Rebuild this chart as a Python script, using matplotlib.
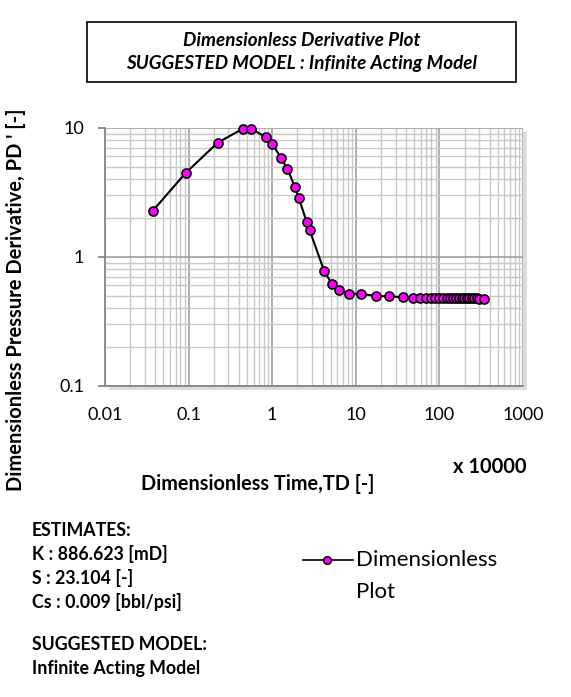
import matplotlib
matplotlib.use("Agg")
import matplotlib.pyplot as plt
from matplotlib.patches import Rectangle
from matplotlib.lines import Line2D
from matplotlib.ticker import LogLocator, NullFormatter, FixedLocator, FixedFormatter

plt.rcParams['font.family'] = ['Lato', 'DejaVu Sans']

# dimensionless time (x 10000) and pressure derivative
td = [0.0373, 0.092, 0.223, 0.444, 0.557, 0.843, 1.0, 1.27, 1.52, 1.87, 2.09,
      2.59, 2.81, 4.17, 5.15, 6.3, 8.3, 11.5, 17.6, 24.8, 36.4, 47.9, 58.6,
      68.6, 78.7, 89.3, 99.7, 111, 122, 134, 147, 159, 171, 185, 198, 214,
      228, 245, 261, 279, 298, 344]
pd_der = [2.27, 4.45, 7.66, 9.8, 9.85, 8.43, 7.52, 5.86, 4.80, 3.47, 2.83,
          1.85, 1.60, 0.78, 0.618, 0.551, 0.517, 0.515, 0.496, 0.493, 0.485,
          0.481, 0.480, 0.479, 0.478, 0.478, 0.477, 0.477, 0.477, 0.476, 0.476,
          0.476, 0.476, 0.475, 0.475, 0.475, 0.475, 0.475, 0.475, 0.475,
          0.474, 0.474]

xticks = [0.01, 0.1, 1, 10, 100, 1000]
xtick_labels = ["0.01", "0.1", "1", "10", "100", "1000"]
yticks = [0.1, 1, 10]
ytick_labels = ["0.1", "1", "10"]

title_lines = ["Dimensionless Derivative Plot", "SUGGESTED MODEL : Infinite Acting Model"]
estimates = ["ESTIMATES:", "K : 886.623 [mD]", "S : 23.104 [-]", "Cs : 0.009 [bbl/psi]"]
model_lines = ["SUGGESTED MODEL:", "Infinite Acting Model"]

W, H = 571, 697
fig = plt.figure(figsize=(W/100, H/100), dpi=100)

def fx(px):
	return px / W

def fy(py):
	return 1 - py / H

ax_l, ax_r, ax_t, ax_b = 105, 523, 127.7, 385.7
ax = fig.add_axes([fx(ax_l), fy(ax_b), fx(ax_r - ax_l), (ax_b - ax_t) / H])
ax.set_zorder(2)

# light drop shadow under the plot area
shadow = Rectangle((fx(ax_l + 4), fy(ax_b + 4)), fx(ax_r - ax_l), (ax_b - ax_t) / H,
	transform=fig.transFigure, facecolor='#dcdcdc', edgecolor='none', zorder=0)
fig.patches.append(shadow)

ax.plot(td, pd_der, color='black', lw=1.5, marker='o', markersize=6.5,
	markerfacecolor='#ff00ff', markeredgecolor='black', markeredgewidth=1.2, zorder=5, clip_on=False)

ax.set_xscale('log')
ax.set_yscale('log')
ax.set_xlim(0.01, 1000)
ax.set_ylim(0.1, 10)

ax.xaxis.set_major_locator(FixedLocator(xticks))
ax.xaxis.set_major_formatter(FixedFormatter(xtick_labels))
ax.yaxis.set_major_locator(FixedLocator(yticks))
ax.yaxis.set_major_formatter(FixedFormatter(ytick_labels))
ax.xaxis.set_minor_locator(LogLocator(base=10, subs=range(2, 10), numticks=20))
ax.yaxis.set_minor_locator(LogLocator(base=10, subs=range(2, 10), numticks=20))
ax.xaxis.set_minor_formatter(NullFormatter())
ax.yaxis.set_minor_formatter(NullFormatter())

ax.grid(True, which='major', color='#a0a0a0', lw=1.2)
ax.grid(True, which='minor', color='#c8c8c8', lw=1.0)
ax.set_axisbelow(True)

for s in ['top', 'right']:
	ax.spines[s].set_visible(False)
for s in ['left', 'bottom']:
	ax.spines[s].set_color('#868686')
	ax.spines[s].set_linewidth(1.3)

ax.tick_params(axis='x', which='major', length=0, pad=15, labelsize=13, colors='black')
ax.tick_params(axis='y', which='major', length=5, width=1.3, color='#868686', pad=10, labelsize=13)
ax.tick_params(which='minor', length=0)

# title box
fig.patches.append(Rectangle((fx(87), fy(82)), fx(516 - 87), (82 - 22) / H,
	transform=fig.transFigure, facecolor='white', edgecolor='black', lw=1.2))
fig.text(fx(302), fy(40), title_lines[0], ha='center', va='center', fontsize=13.6,
	fontweight='bold', style='italic')
fig.text(fx(302), fy(64), title_lines[1], ha='center', va='center', fontsize=13.6,
	fontweight='bold', style='italic')

fig.text(fx(16), fy(300), "Dimensionless Pressure Derivative, PD ' [-]", rotation=90,
	ha='center', va='center', fontsize=14.5, fontweight='bold')
fig.text(fx(258), fy(484), "Dimensionless Time,TD [-]", ha='center', va='center',
	fontsize=14.3, fontweight='bold')
fig.text(fx(490), fy(467), "x 10000", ha='center', va='center', fontsize=14.5, fontweight='bold')

for i, line in enumerate(estimates):
	fig.text(fx(32), fy(530 + i * 24), line, ha='left', va='center', fontsize=12.8, fontweight='bold')
for i, line in enumerate(model_lines):
	fig.text(fx(32), fy(645 + i * 23.5), line, ha='left', va='center', fontsize=12.8, fontweight='bold')

# legend, drawn by hand to match the spreadsheet layout
fig.add_artist(Line2D([fx(303), fx(353)], [fy(560), fy(560)], color='black', lw=1.2))
fig.add_artist(Line2D([fx(327)], [fy(560)], marker='o', markersize=5.5,
	markerfacecolor='#ff00ff', markeredgecolor='black', markeredgewidth=1.1, lw=0))
fig.text(fx(356), fy(560), "Dimensionless", ha='left', va='center', fontsize=16)
fig.text(fx(356), fy(592), "Plot", ha='left', va='center', fontsize=16)

fig.savefig("out.png", dpi=100)
